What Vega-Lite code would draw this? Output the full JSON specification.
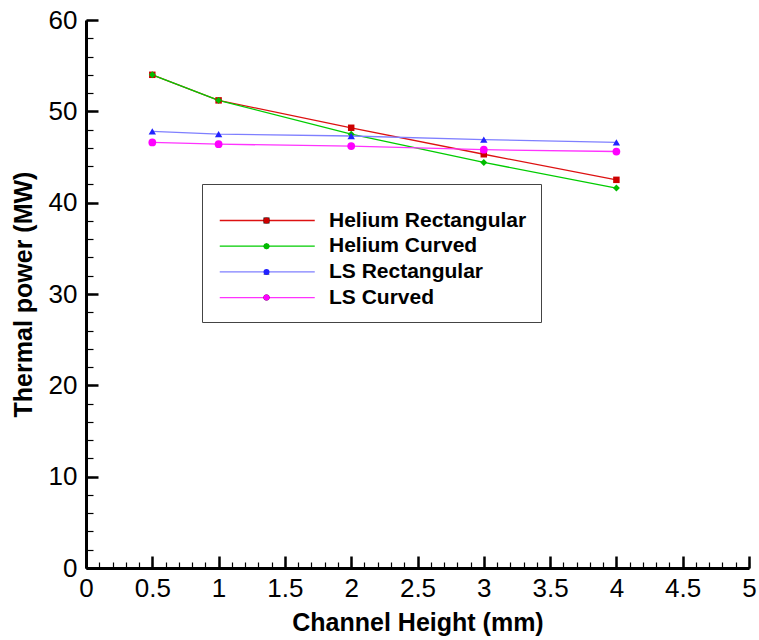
{
  "$schema": "https://vega.github.io/schema/vega-lite/v6.json",
  "width": 663,
  "height": 548,
  "autosize": {"type": "none"},
  "padding": {"left": 86, "top": 20, "right": 10, "bottom": 72},
  "background": "white",
  "config": {
    "view": {"stroke": null},
    "font": "Liberation Sans"
  },
  "data": {
    "values": [
      {"h": 0.5, "p": 54.0, "s": "Helium Rectangular"},
      {"h": 1, "p": 51.2, "s": "Helium Rectangular"},
      {"h": 2, "p": 48.2, "s": "Helium Rectangular"},
      {"h": 3, "p": 45.3, "s": "Helium Rectangular"},
      {"h": 4, "p": 42.5, "s": "Helium Rectangular"},
      {"h": 0.5, "p": 54.0, "s": "Helium Curved"},
      {"h": 1, "p": 51.2, "s": "Helium Curved"},
      {"h": 2, "p": 47.5, "s": "Helium Curved"},
      {"h": 3, "p": 44.4, "s": "Helium Curved"},
      {"h": 4, "p": 41.6, "s": "Helium Curved"},
      {"h": 0.5, "p": 47.8, "s": "LS Rectangular"},
      {"h": 1, "p": 47.5, "s": "LS Rectangular"},
      {"h": 2, "p": 47.3, "s": "LS Rectangular"},
      {"h": 3, "p": 46.9, "s": "LS Rectangular"},
      {"h": 4, "p": 46.6, "s": "LS Rectangular"},
      {"h": 0.5, "p": 46.6, "s": "LS Curved"},
      {"h": 1, "p": 46.4, "s": "LS Curved"},
      {"h": 2, "p": 46.2, "s": "LS Curved"},
      {"h": 3, "p": 45.8, "s": "LS Curved"},
      {"h": 4, "p": 45.6, "s": "LS Curved"}
    ]
  },
  "layer": [
    {
      "mark": {"type": "line", "strokeWidth": 1.3},
      "encoding": {
        "x": {
          "field": "h", "type": "quantitative",
          "scale": {"domain": [0, 5], "nice": false, "zero": false},
          "axis": {
            "orient": "bottom",
            "values": [0, 0.5, 1, 1.5, 2, 2.5, 3, 3.5, 4, 4.5, 5],
            "format": "~g",
            "grid": false,
            "domainColor": "black", "domainWidth": 3,
            "tickColor": "black", "tickWidth": 2.5, "tickSize": -12,
            "labelPadding": 19, "labelFontSize": 26, "labelColor": "black",
            "labelFlush": false, "labelOverlap": false,
            "title": "Channel Height (mm)",
            "titleFontSize": 25, "titleFontWeight": "bold", "titleColor": "black",
            "titlePadding": 9
          }
        },
        "y": {
          "field": "p", "type": "quantitative",
          "scale": {"domain": [0, 60], "nice": false},
          "axis": {
            "orient": "left",
            "values": [0, 10, 20, 30, 40, 50, 60],
            "format": "d",
            "grid": false,
            "domainColor": "black", "domainWidth": 3,
            "tickColor": "black", "tickWidth": 2.5, "tickSize": -12,
            "labelPadding": 21, "labelFontSize": 26, "labelColor": "black",
            "labelFlush": false, "labelOverlap": false,
            "title": "Thermal power (MW)",
            "titleFontSize": 25, "titleFontWeight": "bold", "titleColor": "black",
            "titlePadding": 12
          }
        },
        "stroke": {
          "field": "s", "type": "nominal",
          "scale": {
            "domain": ["Helium Rectangular", "Helium Curved", "LS Rectangular", "LS Curved"],
            "range": ["#dd1111", "#00cc00", "#7f7fff", "#ff33ff"]
          },
          "legend": {
            "orient": "none", "legendX": 116, "legendY": 164,
            "title": " ", "titleFontSize": 4, "titlePadding": 8,
            "padding": 14,
            "strokeColor": "#444444", "fillColor": "white",
            "symbolType": "M-1.42,0H18.58", "symbolSize": 90.25, "symbolStrokeWidth": 1.3,
            "labelFontSize": 21, "labelFontWeight": "bold", "labelColor": "black",
            "labelOffset": 92, "labelLimit": 400, "rowPadding": 3.7
          }
        }
      }
    },
    {
      "mark": {"type": "point", "filled": true, "opacity": 1},
      "encoding": {
        "x": {
          "field": "h", "type": "quantitative",
          "axis": {
            "orient": "bottom",
            "values": [0, 0.1, 0.2, 0.3, 0.4, 0.5, 0.6, 0.7, 0.8, 0.9, 1, 1.1, 1.2, 1.3, 1.4, 1.5, 1.6, 1.7, 1.8, 1.9, 2, 2.1, 2.2, 2.3, 2.4, 2.5, 2.6, 2.7, 2.8, 2.9, 3, 3.1, 3.2, 3.3, 3.4, 3.5, 3.6, 3.7, 3.8, 3.9, 4, 4.1, 4.2, 4.3, 4.4, 4.5, 4.6, 4.7, 4.8, 4.9, 5],
            "grid": false, "domain": false, "labels": false, "title": null,
            "tickColor": "black", "tickWidth": 1.2, "tickSize": -6
          }
        },
        "y": {
          "field": "p", "type": "quantitative",
          "axis": {
            "orient": "left",
            "values": [0, 2, 4, 6, 8, 10, 12, 14, 16, 18, 20, 22, 24, 26, 28, 30, 32, 34, 36, 38, 40, 42, 44, 46, 48, 50, 52, 54, 56, 58, 60],
            "grid": false, "domain": false, "labels": false, "title": null,
            "tickColor": "black", "tickWidth": 1.2, "tickSize": -7
          }
        },
        "fill": {
          "field": "s", "type": "nominal",
          "sort": ["Helium Rectangular", "Helium Curved", "LS Rectangular", "LS Curved"],
          "scale": {"range": ["#cc0000", "#00bb00", "#2222ff", "#ff00ff"]},
          "legend": {
            "orient": "none", "legendX": 156, "legendY": 164,
            "title": " ", "titleFontSize": 4, "titlePadding": 8,
            "padding": 14,
            "symbolSize": 36, "symbolStrokeWidth": 0,
            "labelFontSize": 21, "labelFontWeight": "bold", "labelOpacity": 0,
            "labelOffset": 16, "labelLimit": 400, "rowPadding": 3.7
          }
        },
        "shape": {
          "field": "s", "type": "nominal",
          "sort": ["Helium Rectangular", "Helium Curved", "LS Rectangular", "LS Curved"],
          "scale": {"range": ["square", "diamond", "triangle-up", "circle"]},
          "legend": {
            "orient": "none", "legendX": 156, "legendY": 164,
            "title": " ", "titleFontSize": 4, "titlePadding": 8,
            "padding": 14,
            "symbolSize": 36, "symbolStrokeWidth": 0,
            "labelFontSize": 21, "labelFontWeight": "bold", "labelOpacity": 0,
            "labelOffset": 16, "labelLimit": 400, "rowPadding": 3.7
          }
        },
        "size": {
          "field": "s", "type": "nominal",
          "sort": ["Helium Rectangular", "Helium Curved", "LS Rectangular", "LS Curved"],
          "scale": {"range": [42, 60, 45, 80]},
          "legend": null
        }
      }
    }
  ],
  "resolve": {"axis": {"x": "independent", "y": "independent"}}
}
